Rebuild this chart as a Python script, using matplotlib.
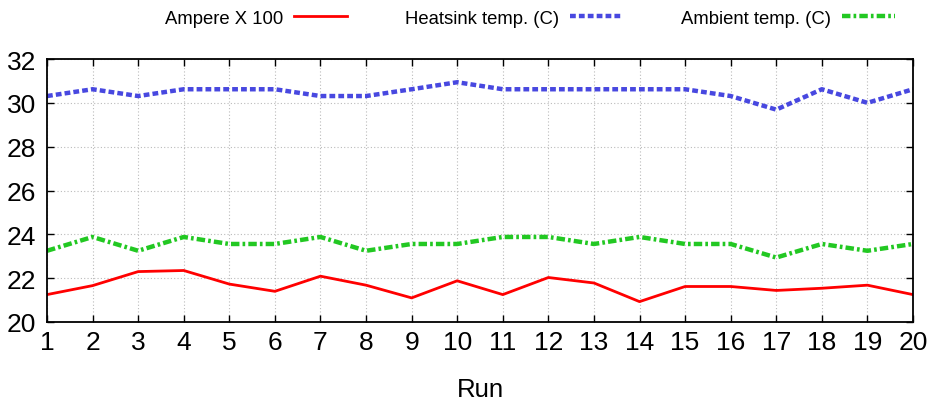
import matplotlib
matplotlib.use("Agg")
import matplotlib.pyplot as plt

plt.rcParams["font.family"] = ["Liberation Sans", "DejaVu Sans"]

runs = list(range(1, 21))
ampere_x100 = [21.25, 21.66, 22.30, 22.35, 21.73, 21.40, 22.09, 21.68, 21.10, 21.88,
               21.25, 22.03, 21.78, 20.93, 21.62, 21.62, 21.44, 21.54, 21.68, 21.25]
heatsink = [30.31, 30.62, 30.31, 30.62, 30.62, 30.62, 30.31, 30.31, 30.62, 30.94,
            30.62, 30.62, 30.62, 30.62, 30.62, 30.31, 29.69, 30.62, 30.00, 30.62]
ambient = [23.25, 23.88, 23.25, 23.88, 23.56, 23.56, 23.88, 23.25, 23.56, 23.56,
           23.88, 23.88, 23.56, 23.88, 23.56, 23.56, 22.94, 23.56, 23.25, 23.56]

fig = plt.figure(figsize=(9.32, 4.02), dpi=100)
ax = fig.add_axes([47 / 932, 1 - 323 / 402, 866 / 932, 263 / 402])

ax.plot(runs, ampere_x100, color="#ff0000", lw=2.0, label="Ampere X 100")
ax.plot(runs, heatsink, color="#4848e0", lw=3.2, dashes=(1.3, 0.7),
        label="Heatsink temp. (C)")
ax.plot(runs, ambient, color="#22c822", lw=3.2, dashes=(1.9, 0.7, 0.6, 0.7),
        label="Ambient temp. (C)")

ax.set_xlim(1, 20)
ax.set_ylim(20, 32)
ax.set_xticks(runs)
ax.set_yticks(range(20, 33, 2))
ax.tick_params(direction="in", length=5, width=1, top=True, right=True,
               labelsize=19)
ax.tick_params(axis="y", pad=8)
ax.tick_params(axis="x", pad=6)
ax.grid(True, color="#bbbbbb", ls=(0, (1, 2)), lw=0.8)
for s in ax.spines.values():
    s.set_linewidth(1.3)
ax.set_xlabel("Run", fontsize=18.5, labelpad=16)

ax.legend(loc="center right", bbox_to_anchor=(912 / 932, 1 - 19 / 402),
          bbox_transform=fig.transFigure, ncol=3, frameon=False,
          markerfirst=False, fontsize=13.3, handlelength=2.9,
          handletextpad=0.6, columnspacing=3.1)

fig.savefig("out.png", dpi=100)
